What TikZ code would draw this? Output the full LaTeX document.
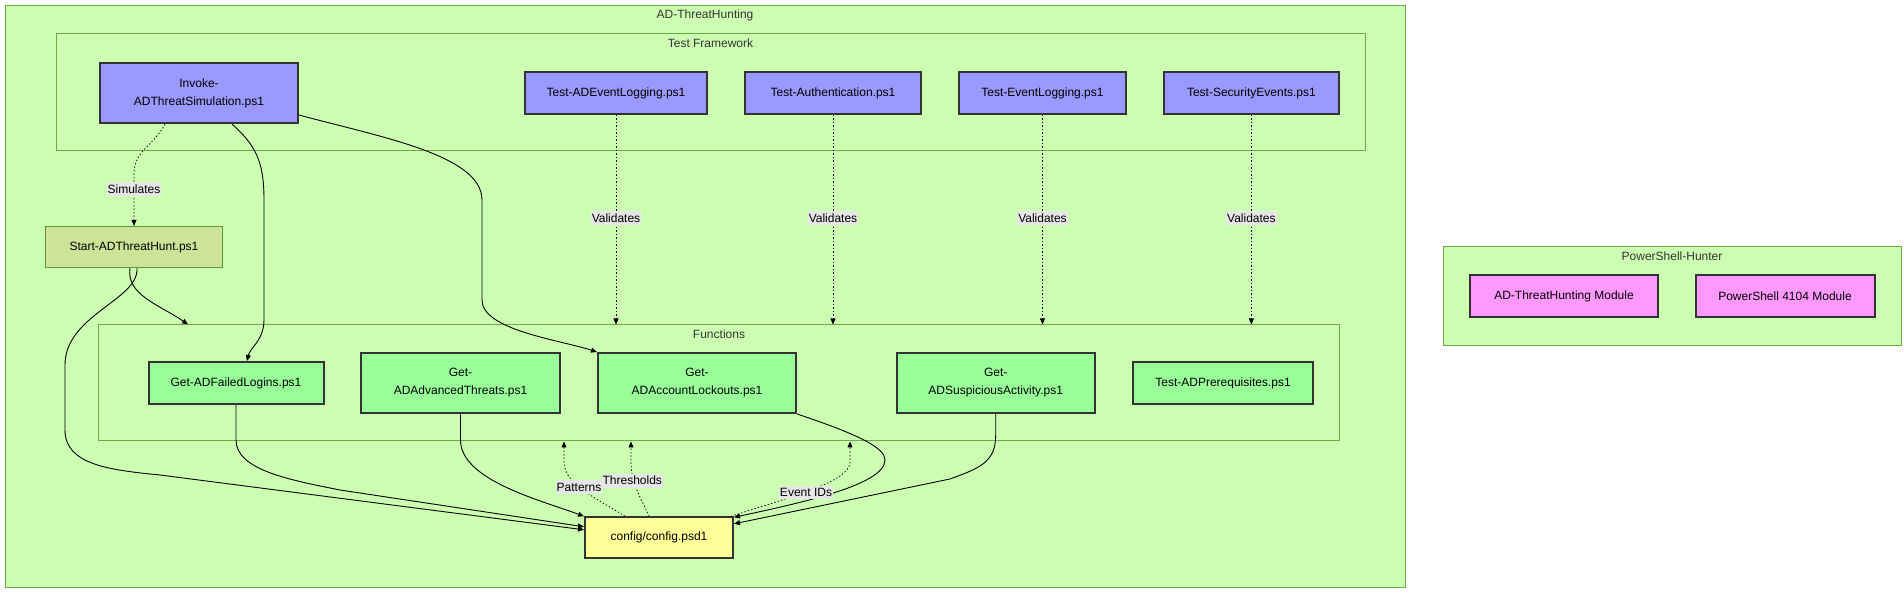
\documentclass[tikz,border=0pt]{standalone}
\usepackage{fontspec}
\setmainfont{Liberation Sans}
\usetikzlibrary{shapes, arrows.meta, positioning, calc}

\definecolor{clusterfill}{HTML}{CDFFB2}
\definecolor{clusterline}{HTML}{6EAA49}
\definecolor{testfill}{HTML}{9999FF}
\definecolor{funcfill}{HTML}{99FF99}
\definecolor{cfgfill}{HTML}{FFFF99}
\definecolor{modfill}{HTML}{FF99FF}
\definecolor{startfill}{HTML}{CDE498}
\definecolor{startline}{HTML}{5E9A3A}
\definecolor{boxline}{HTML}{333333}
\definecolor{labelfill}{RGB}{230,230,230}

\tikzset{
  cluster/.style={draw=clusterline, fill=clusterfill, line width=1pt, inner sep=0pt},
  cltitle/.style={text=boxline, font=\fontsize{12}{14}\selectfont},
  box/.style={draw=boxline, line width=2pt, font=\fontsize{12}{18}\selectfont, align=center, inner sep=0pt, minimum height=42pt},
  testbox/.style={box, fill=testfill},
  funcbox/.style={box, fill=funcfill},
  cfgbox/.style={box, fill=cfgfill},
  modbox/.style={box, fill=modfill},
  startbox/.style={box, fill=startfill, draw=startline, line width=1.2pt},
  link/.style={line width=0.9pt, -{Triangle[length=6pt,width=5pt]}},
  dots/.style={link, line width=0.7pt, dash pattern=on 1.5pt off 2pt},
  lbl/.style={fill=labelfill, text=black, inner xsep=1pt, inner ysep=2.5pt, font=\fontsize{12}{14}\selectfont}
}

\begin{document}
\begin{tikzpicture}[x=1pt, y=-1pt]
  \useasboundingbox (0,0) rectangle (1904,593);

  % Cadres (sous-graphes)
  \node[cluster, minimum width=1400pt, minimum height=581pt] (adth) at (705,296.5) {};
  \node[cltitle] (adthtitle) at (705,15) {AD-ThreatHunting};
  \node[cluster, minimum width=1309pt, minimum height=117pt] (fw) at (710.5,92.5) {};
  \node[cltitle] (fwtitle) at (710.5,43) {Test Framework};
  \node[cluster, minimum width=1241pt, minimum height=116pt] (fn) at (719.3,383) {};
  \node[cltitle] (fntitle) at (719,334) {Functions};
  \node[cluster, minimum width=458pt, minimum height=99pt] (psh) at (1672,296.5) {};
  \node[cltitle] (pshtitle) at (1672,256) {PowerShell-Hunter};

  % Tests
  \node[testbox, minimum width=198pt, minimum height=60pt] (inv) at (199,93) {Invoke-\\ADThreatSimulation.ps1};
  \node[testbox, minimum width=182pt] (tadel) at (616,93) {Test-ADEventLogging.ps1};
  \node[testbox, minimum width=176pt] (tauth) at (833,93) {Test-Authentication.ps1};
  \node[testbox, minimum width=167pt] (tevl) at (1042.5,93) {Test-EventLogging.ps1};
  \node[testbox, minimum width=175pt] (tsec) at (1251.4,93) {Test-SecurityEvents.ps1};

  \node[startbox, minimum width=177pt, minimum height=41pt] (start) at (134,247) {Start-ADThreatHunt.ps1};

  % Fonctions
  \node[funcbox, minimum width=175pt] (fail) at (236,383) {Get-ADFailedLogins.ps1};
  \node[funcbox, minimum width=199pt, minimum height=60pt] (adv) at (460.5,383) {Get-\\ADAdvancedThreats.ps1};
  \node[funcbox, minimum width=198pt, minimum height=60pt] (lock) at (697,383) {Get-\\ADAccountLockouts.ps1};
  \node[funcbox, minimum width=198pt, minimum height=60pt] (susp) at (995.7,383) {Get-\\ADSuspiciousActivity.ps1};
  \node[funcbox, minimum width=180pt] (prereq) at (1223,383) {Test-ADPrerequisites.ps1};

  \node[cfgbox, minimum width=148pt, minimum height=41pt] (cfg) at (659,537.8) {config/config.psd1};

  % Modules
  \node[modbox, minimum width=188pt] (mod1) at (1564,296.5) {AD-ThreatHunting Module};
  \node[modbox, minimum width=179pt] (mod2) at (1785,296.5) {PowerShell 4104 Module};

  % Liens
  \draw[dots] ([xshift=-34pt]inv.south) .. controls (152,148) and (134,150) .. (134,175) -- (start.north);
  \draw[link] ([xshift=33pt]inv.south) .. controls (255,145) and (264,160) .. (264,200) -- (264,320) .. controls (264,340) and (250,348) .. ([xshift=11pt]fail.north);
  \draw[link] ([yshift=9pt]inv.south east) .. controls (380,137) and (482,155) .. (482,200) -- (482,300) .. controls (482,330) and (560,340) .. (lock.north west);
  \draw[link] ([xshift=-4pt]start.south) .. controls (126,295) and (160,305) .. (188,0 |- fn.north);
  \draw[link] ([xshift=3pt]start.south) .. controls (139,300) and (65,315) .. (65,365) -- (65,430) .. controls (65,465) and (110,470) .. (160,475) -- ([yshift=8pt]cfg.west);
  \draw[link] (fail.south) -- (236,440) .. controls (236,470) and (290,480) .. (340,490) -- ([yshift=11pt]cfg.west);
  \draw[link] (adv.south) -- (460.5,440) .. controls (460.5,480) and (540,500) .. (cfg.north west);
  \draw[link] (lock.south east) .. controls (860,435) and (885,448) .. (885,460) .. controls (885,485) and (800,503) .. ([yshift=-1pt]cfg.north east);
  \draw[link] (susp.south) -- (995.7,435) .. controls (995.7,462) and (980,468) .. (950,479) -- ([yshift=14pt]cfg.east);

  \draw[dots] (tadel.south) -- (tadel.south |- fn.north);
  \draw[dots] (tauth.south) -- (tauth.south |- fn.north);
  \draw[dots] (tevl.south) -- (tevl.south |- fn.north);
  \draw[dots] (tsec.south) -- (tsec.south |- fn.north);

  \draw[dots] ([xshift=-34pt]cfg.north) .. controls (600,500) and (564,485) .. (564,462) -- (564,0 |- fn.south);
  \draw[dots] ([xshift=-9.7pt]cfg.north) .. controls (640,497) and (631,482) .. (631,462) -- (631,0 |- fn.south);
  \draw[dots] ([xshift=-3pt]cfg.north east) .. controls (790,497) and (850,482) .. (850,462) -- (850,0 |- fn.south);

  % Etiquettes
  \node[lbl] (lsim) at (134,189) {Simulates};
  \node[lbl] (lval1) at (tadel.south |- 0,218) {Validates};
  \node[lbl] (lval2) at (tauth.south |- 0,218) {Validates};
  \node[lbl] (lval3) at (tevl.south |- 0,218) {Validates};
  \node[lbl] (lval4) at (tsec.south |- 0,218) {Validates};
  \node[lbl] (lpat) at (579,487) {Patterns};
  \node[lbl] (lthr) at (632.3,480.7) {Thresholds};
  \node[lbl] (levt) at (806,492.3) {Event IDs};
\end{tikzpicture}
\end{document}
